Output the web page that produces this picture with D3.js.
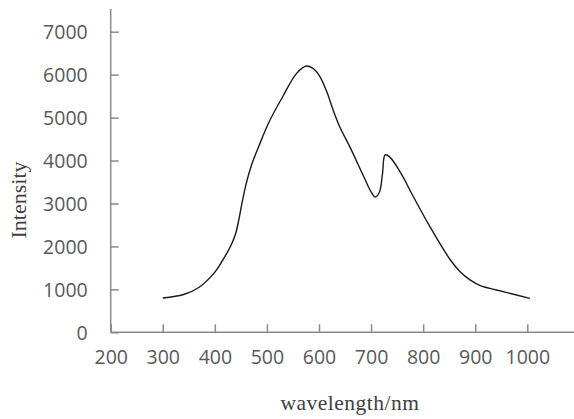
<!DOCTYPE html>
<html>
<head>
<meta charset="utf-8">
<script src="https://cdn.jsdelivr.net/npm/d3@7"></script>
<style>
  html, body { margin: 0; padding: 0; background: #fff; }
  svg { display: block; }
</style>
</head>
<body>
<svg id="chart" width="574" height="419"></svg>
<script>
// Emission spectrum: wavelength (nm) vs. intensity
const wavelength = [300, 340, 370, 400, 420, 432, 440, 446, 452, 460, 470, 485, 505, 530, 557, 576, 590, 602, 615, 627, 640, 660, 685, 700, 708, 716, 722, 727, 736, 760, 775, 813, 852, 871, 890, 910, 941, 1005];
const intensity  = [800, 880, 1050, 1400, 1780, 2050, 2300, 2620, 3000, 3450, 3880, 4350, 4920, 5480, 6030, 6200, 6130, 5950, 5600, 5180, 4780, 4300, 3650, 3270, 3150, 3260, 3700, 4130, 4080, 3650, 3300, 2460, 1690, 1410, 1220, 1085, 985, 790];

const xTicks = [200, 300, 400, 500, 600, 700, 800, 900, 1000];
const yTicks = [0, 1000, 2000, 3000, 4000, 5000, 6000, 7000];

const xTitle = "wavelength/nm";
const yTitle = "Intensity";

const svg = d3.select("#chart");

const x = d3.scaleLinear().domain([200, 1000]).range([110.7, 527.3]);
const y = d3.scaleLinear().domain([0, 7000]).range([332.3, 31.7]);

const axisColor = "#8a8a8a";
const labelColor = "#595959";

// x axis: line runs past the last tick to the right edge
const xAxis = d3.axisBottom(x).tickValues(xTicks).tickSize(0).tickPadding(0).tickFormat(d3.format("d"));
const gx = svg.append("g").attr("transform", `translate(0,${y(0)})`).call(xAxis);
gx.select(".domain").remove();
gx.append("line")
  .attr("x1", x(200)).attr("x2", x(1090))
  .attr("stroke", axisColor).attr("stroke-width", 1.5);
gx.selectAll(".tick").append("line")
  .attr("y1", 0).attr("y2", -8)
  .attr("stroke", axisColor).attr("stroke-width", 1.5);
gx.selectAll(".tick text")
  .attr("y", 32)
  .attr("dy", 0)
  .attr("fill", labelColor)
  .style("font-family", "'Open Sans', 'Noto Sans', sans-serif")
  .style("font-size", "19.5px");

// y axis: ticks point into the plot
const yAxis = d3.axisLeft(y).tickValues(yTicks).tickSize(0).tickPadding(0).tickFormat(d3.format("d"));
const gy = svg.append("g").attr("transform", `translate(${x(200)},0)`).call(yAxis);
gy.select(".domain").remove();
gy.append("line")
  .attr("y1", y(0)).attr("y2", y(7530))
  .attr("stroke", axisColor).attr("stroke-width", 1.5);
gy.selectAll(".tick").append("line")
  .attr("x1", 0).attr("x2", 8)
  .attr("stroke", axisColor).attr("stroke-width", 1.5);
gy.selectAll(".tick text")
  .attr("x", -23)
  .attr("dy", "0.35em")
  .attr("fill", labelColor)
  .style("font-family", "'Open Sans', 'Noto Sans', sans-serif")
  .style("font-size", "19.5px");

// spectrum curve
const line = d3.line()
  .x((d, i) => x(wavelength[i]))
  .y(d => y(d))
  .curve(d3.curveCatmullRom.alpha(0.5));

svg.append("path")
  .datum(intensity)
  .attr("d", line)
  .attr("fill", "none")
  .attr("stroke", "#1a1a1a")
  .attr("stroke-width", 1.4);

// axis titles
svg.append("text")
  .attr("x", 350).attr("y", 410)
  .attr("text-anchor", "middle")
  .attr("fill", "#404040")
  .style("font-family", "'Liberation Serif', 'DejaVu Serif', serif")
  .style("font-size", "21.5px")
  .style("letter-spacing", "0.5px")
  .text(xTitle);

svg.append("text")
  .attr("transform", "translate(26,200) rotate(-90)")
  .attr("text-anchor", "middle")
  .attr("fill", "#404040")
  .style("font-family", "'Liberation Serif', 'DejaVu Serif', serif")
  .style("font-size", "22px")
  .text(yTitle);
</script>
</body>
</html>
